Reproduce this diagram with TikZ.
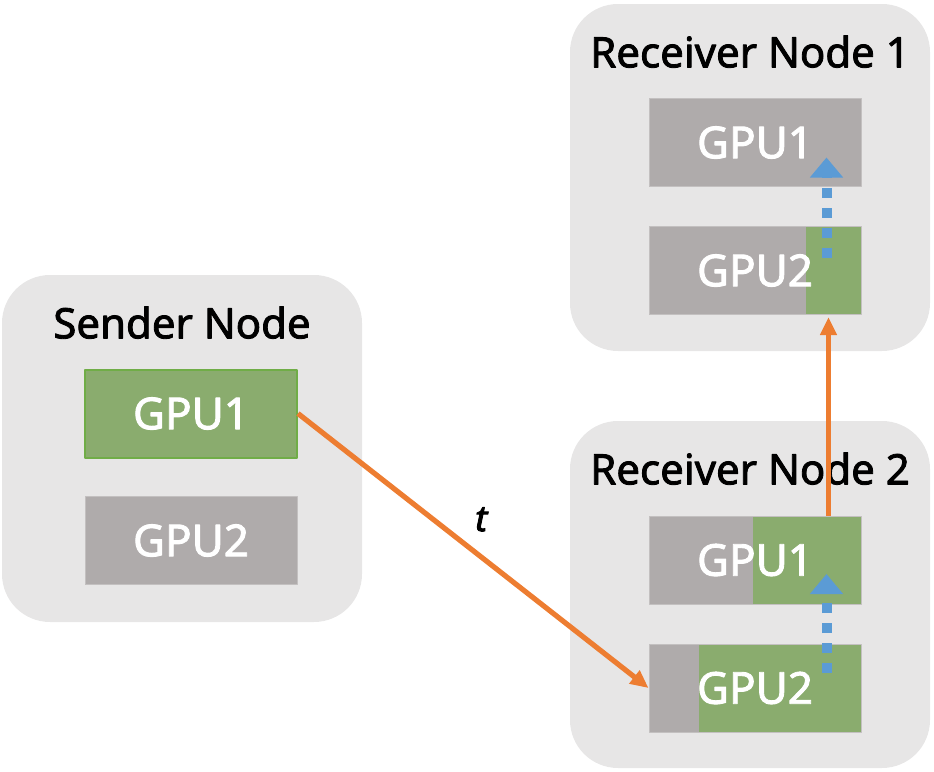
\documentclass[tikz,border=0pt]{standalone}
\usepackage{fontspec}
\setmainfont{Noto Sans}
\newfontfamily\labelfont{Noto Sans}[FakeBold=2]
\newfontfamily\varfont{Noto Sans}[FakeBold=2.5]
\usetikzlibrary{arrows.meta,calc}
\definecolor{boxgray}{HTML}{E7E6E6}
\definecolor{gpugray}{HTML}{AFABAB}
\definecolor{gpugreen}{HTML}{8AAC6E}
\definecolor{edgegreen}{HTML}{70AD47}
\definecolor{sendorange}{HTML}{ED7D31}
\definecolor{copyblue}{HTML}{5B9BD5}
\begin{document}
\begin{tikzpicture}[x=0.5pt, y=-0.5pt, line join=round,
  machine/.style={fill=boxgray, rounded corners=24pt, minimum width=180pt, minimum height=173.5pt, inner sep=0pt},
  title/.style={font=\labelfont\fontsize{21}{25}\selectfont, text=black, inner sep=0pt},
  gpu/.style={fill=gpugray, draw=gpugray!75!white, line width=0.5pt, minimum width=106pt, minimum height=44pt, inner sep=0pt, text=white, font=\labelfont\fontsize{22}{26}\selectfont},
  loaded/.style={path picture={\fill[gpugreen] ([xshift=-#1]path picture bounding box.north east) rectangle (path picture bounding box.south east);}},
  sendarrow/.style={draw=sendorange, line width=2.6pt, -{Triangle[length=9pt,width=8pt]}},
  copyarrow/.style={draw=copyblue, line width=5pt, dash pattern=on 5pt off 5pt, -{Triangle[length=10pt,width=16pt]}}]
\useasboundingbox (0,0) rectangle (934,772);
% machines
\node[machine] (sender) at (182,448.5) {};
\node[machine] (recvA) at (750,177.5) {};
\node[machine] (recvB) at (750,594.5) {};
\node[title] (sendertitle) at ([yshift=-24pt]sender.north) {Sender Node};
\node[title] (recvAtitle) at ([yshift=-24pt]recvA.north) {Receiver Node 1};
\node[title] (recvBtitle) at ([yshift=-24pt]recvB.north) {Receiver Node 2};
% gpus
\node[gpu, fill=gpugreen, draw=edgegreen, line width=1pt] (sg1) at (191,413.5) {GPU1};
\node[gpu] (sg2) at (191,540.5) {GPU2};
\node[gpu] (r1g1) at (755,142.5) {GPU1};
\node[gpu, loaded=27.5pt] (r1g2) at (755,270.5) {GPU2};
\node[gpu, loaded=54pt] (r2g1) at (755,560) {GPU1};
\node[gpu, loaded=81pt] (r2g2) at (755,688) {GPU2};
% transfers
\draw[sendarrow] (sg1.east)--(r2g2.west) node[midway, above=5pt, xshift=4pt, text=black, font=\varfont\itshape\fontsize{18}{20}\selectfont]{t};
\draw[sendarrow] ($(r2g1.north east)+(-33,0)$)--($(r1g2.south east)+(-33,2)$);
\draw[copyarrow] ($(r1g2.east)+(-35,-13)$)--($(r1g1.east)+(-35,15)$);
\draw[copyarrow] ($(r2g2.east)+(-35,-15)$)--($(r2g1.east)+(-35,14)$);
\end{tikzpicture}
\end{document}
